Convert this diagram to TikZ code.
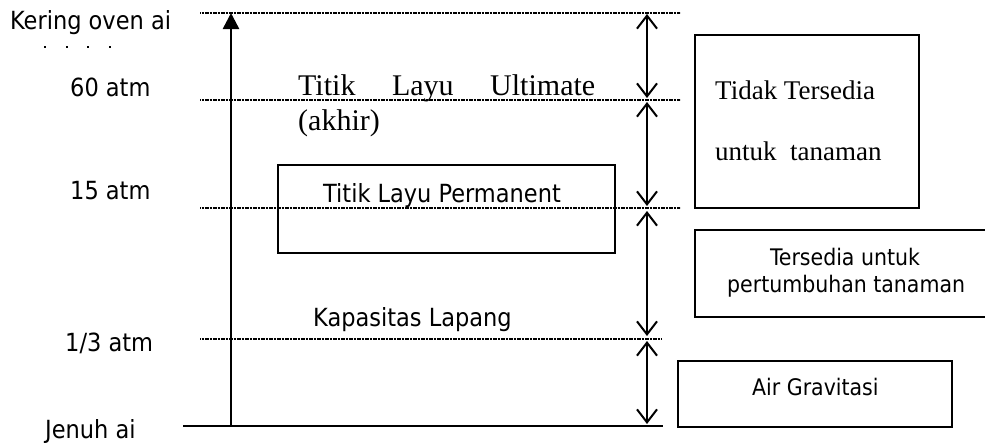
\documentclass[tikz,border=0pt]{standalone}
\usepackage{fontspec}
\setmainfont{Liberation Serif}
\newfontfamily\sansf{DejaVu Sans Condensed}
\usetikzlibrary{arrows.meta}
\tikzset{
  lvl/.style={line width=1.1pt, dash pattern=on 1.2pt off 0.4pt, black},
  lbl/.style={anchor=base west, inner sep=0pt, font=\sansf\fontsize{25}{29}\selectfont},
  bxt/.style={anchor=base west, inner sep=0pt, font=\sansf\fontsize{22.8}{26}\selectfont},
  srf/.style={anchor=base west, inner sep=0pt},
  boxn/.style={draw, line width=1.6pt, inner sep=0pt},
  dbl/.style={line width=2pt, {Straight Barb[length=13pt,width=20pt,line width=2pt]}-{Straight Barb[length=13pt,width=20pt,line width=2pt]}},
}
\begin{document}
\begin{tikzpicture}[x=1pt,y=-1pt]
\useasboundingbox (0,0) rectangle (985,445);
% level lines
\coordinate (l0a) at (200,13);  \coordinate (l0b) at (680,13);
\coordinate (l1a) at (200,100); \coordinate (l1b) at (680,100);
\coordinate (l2a) at (200,208); \coordinate (l2b) at (680,208);
\coordinate (l3a) at (200,339); \coordinate (l3b) at (662,339);
\coordinate (l4a) at (183,426); \coordinate (l4b) at (663,426);
\draw[lvl] (l0a) -- (l0b);
\draw[lvl] (l1a) -- (l1b);
\draw[lvl] (l2a) -- (l2b);
\draw[lvl] (l3a) -- (l3b);
\draw[line width=2pt] (l4a) -- (l4b);
% main arrow
\coordinate (ma) at (231,426); \coordinate (mb) at (231,13);
\draw[line width=2.5pt, -{Triangle[length=16pt,width=16pt]}] (ma) -- (mb);
% double arrows
\coordinate (d0a) at (647,14);  \coordinate (d0b) at (647,98);
\coordinate (d1a) at (647,102); \coordinate (d1b) at (647,206);
\coordinate (d2a) at (647,211); \coordinate (d2b) at (647,336);
\coordinate (d3a) at (647,341); \coordinate (d3b) at (647,424);
\draw[dbl] (d0a) -- (d0b);
\draw[dbl] (d1a) -- (d1b);
\draw[dbl] (d2a) -- (d2b);
\draw[dbl] (d3a) -- (d3b);
% boxes
\node[boxn, minimum width=337pt, minimum height=88pt] (bperm) at (446.5,209) {};
\node[boxn, line width=2pt, minimum width=224pt, minimum height=173pt] (btidak) at (807,121.5) {};
\node[boxn, line width=2pt, minimum width=293pt, minimum height=87pt] (btersedia) at (841.5,273.5) {};
\node[boxn, line width=2pt, minimum width=274pt, minimum height=66pt] (bair) at (815,394) {};
% left labels
\node[lbl] (tker) at (10,29) {Kering oven ai};
\foreach \xx/\nm in {45/a,67/b,88/c,110/d}{\fill (\xx-0.8,46) rectangle (\xx+0.8,48);}
\node[lbl] (t60) at (70,96) {60 atm};
\node[lbl] (t15) at (70,199) {15 atm};
\node[lbl] (t13) at (65,351) {1/3 atm};
\node[lbl] (tjen) at (45,438) {Jenuh ai};
% middle labels
\node[srf, font=\fontsize{30}{34}\selectfont] (tult) at (298,95) {\makebox[297pt][s]{Titik\hfill Layu\hfill Ultimate}};
\node[srf, font=\fontsize{30}{34}\selectfont] (takh) at (298,130) {(akhir)};
\node[lbl] (tperm) at (323,202) {Titik Layu Permanent};
\node[lbl] (tkap) at (313,326) {Kapasitas Lapang};
% right box texts
\node[srf, font=\fontsize{27}{30}\selectfont] (ttid1) at (715,99) {Tidak Tersedia};
\node[srf, font=\fontsize{27}{30}\selectfont] (ttid2) at (715,160) {untuk\ \ tanaman};
\node[bxt] (tter1) at (770,265) {Tersedia untuk};
\node[bxt] (tter2) at (727,292) {pertumbuhan tanaman};
\node[bxt] (tair) at (752,395) {Air Gravitasi};
\end{tikzpicture}
\end{document}
